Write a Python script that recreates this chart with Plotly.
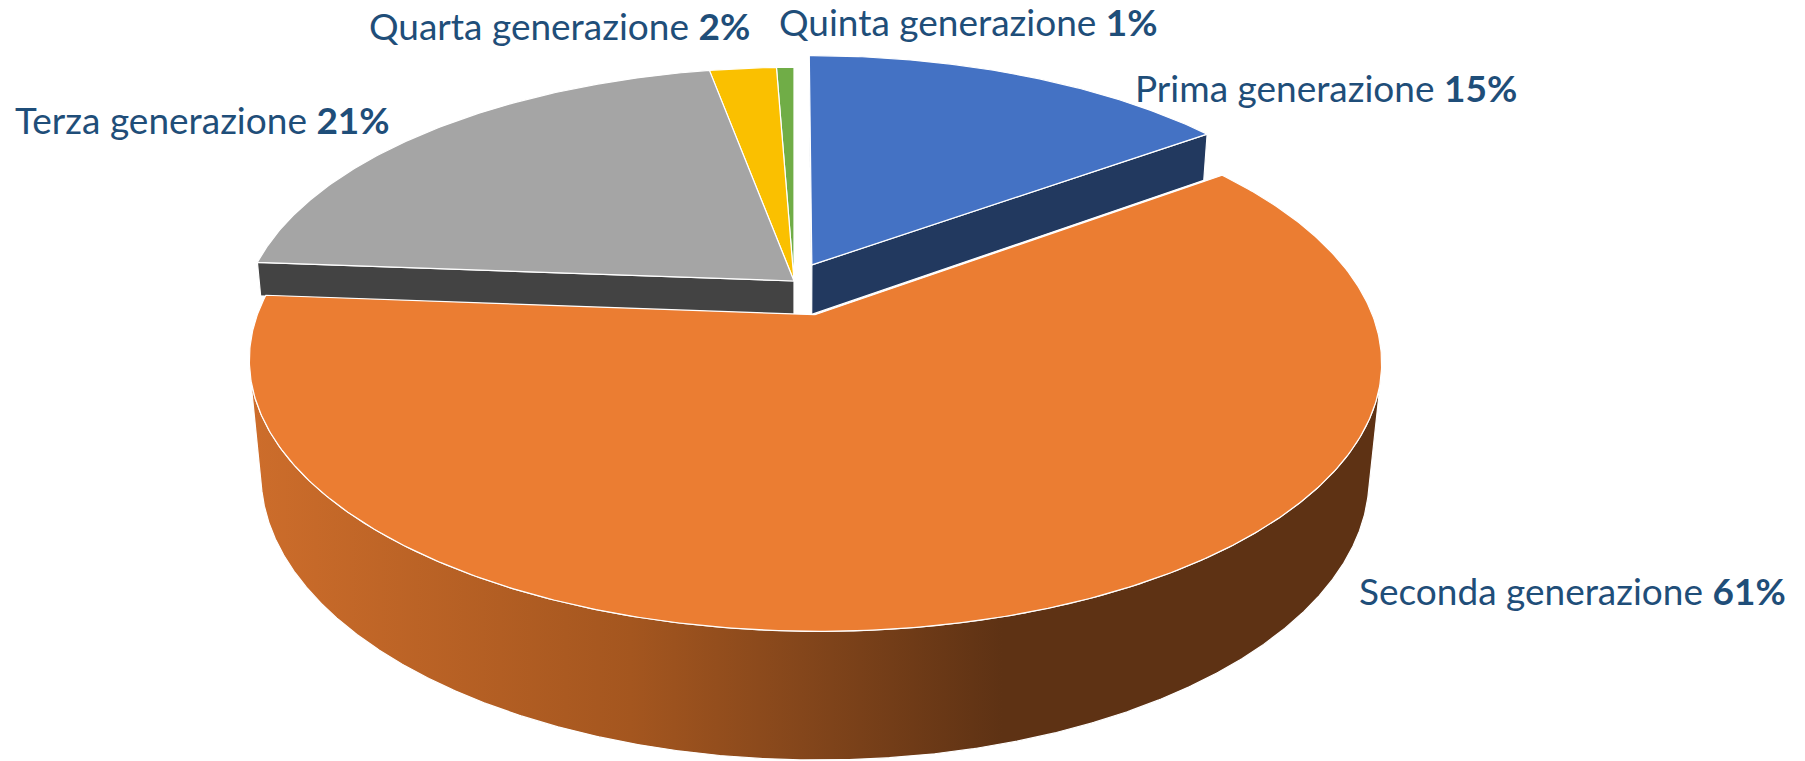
import math
import numpy as np
import plotly.graph_objects as go

# ---------------- data ----------------
categories = ["Prima generazione", "Seconda generazione", "Terza generazione",
              "Quarta generazione", "Quinta generazione"]
values = [15.0, 61.2, 20.9, 2.3, 0.6]

# ---------------- style ----------------
top_colors = ["#4472C4", "#EB7D32", "#A5A5A5", "#FAC000", "#70AD47"]
side_colors = ["#22395F", "#5E3214", "#434343", "#9C7500", "#44692B"]
explode = [0.073, 0.137, 0.0, 0.0, 0.0]
heights = [0.104, 0.235, 0.07, 0.07, 0.07]
label_pos = {  # pixel positions (left edge, vertical middle)
    "Prima generazione": (1133, 87),
    "Seconda generazione": (1357, 590),
    "Terza generazione": (13, 119),
    "Quarta generazione": (367, 25),
    "Quinta generazione": (777, 21),
}
TEXT_COLOR = "#1F4E79"
W, H = 1805, 761

# camera (perspective view of the pie)
CX, CY = 794.0, 281.0
F_SCALE = 545.0
K_PERSP = 0.17
ALPHA = math.asin(250.0 / 545.0)
SA, CA = math.sin(ALPHA), math.cos(ALPHA)
DIST = CA / K_PERSP
FOCAL = F_SCALE * DIST
CAM = np.array([0.0, -DIST * CA, DIST * SA])


def project(X, Y, Z):
    X = np.asarray(X, float); Y = np.asarray(Y, float); Z = np.asarray(Z, float)
    d = DIST + Y * CA - Z * SA
    up = Y * SA + Z * CA
    return CX + FOCAL * X / d, CY - FOCAL * up / d


fig = go.Figure()
total = sum(values)
starts = np.cumsum([0] + values[:-1]) / total * 2 * math.pi
spans = np.array(values) / total * 2 * math.pi

slices = []
for i in range(len(values)):
    t0 = starts[i]; t1 = t0 + spans[i]; tm = (t0 + t1) / 2
    ox, oy = explode[i] * math.sin(tm), explode[i] * math.cos(tm)
    slices.append(dict(i=i, t0=t0, t1=t1, tm=tm, ox=ox, oy=oy))

# paint far slices first
order = sorted(slices, key=lambda s: -(math.cos(s["tm"]) + s["oy"]))


def add_poly(xs, ys, color, grad=None, lw=1.2):
    kw = dict(x=list(xs) + [xs[0]], y=list(ys) + [ys[0]], mode="lines", fill="toself",
              fillcolor=color, line=dict(color="white", width=lw),
              hoverinfo="skip", showlegend=False)
    if grad is not None:
        kw["fillgradient"] = grad
    fig.add_trace(go.Scatter(**kw))


orange_grad = dict(type="horizontal",
                   colorscale=[[0, "#CD6D2B"], [0.337, "#A4561F"], [0.488, "#84461B"],
                               [0.665, "#5E3214"], [1, "#5E3214"]])

for s in order:
    i = s["i"]; ox, oy = s["ox"], s["oy"]; h = heights[i]
    P = np.array([ox, oy, 0.0])
    # radial faces
    for t, sign in ((s["t0"], -1), (s["t1"], 1)):
        n = np.array([math.cos(t), -math.sin(t), 0.0]) * sign
        if np.dot(CAM - P, n) > 0:
            X = [ox, ox + math.sin(t), ox + math.sin(t), ox]
            Y = [oy, oy + math.cos(t), oy + math.cos(t), oy]
            Z = [0, 0, -h, -h]
            u, v = project(X, Y, Z)
            add_poly(u, v, side_colors[i])
    # outer side
    nseg = max(6, int(math.degrees(s["t1"] - s["t0"]) * 2))
    th = np.linspace(s["t0"], s["t1"], nseg)
    px, py = ox + np.sin(th), oy + np.cos(th)
    vis = (CAM[0] - px) * np.sin(th) + (CAM[1] - py) * np.cos(th) > 0
    if vis.any():
        idx = np.where(vis)[0]
        a, b = idx[0], idx[-1]
        thv = np.linspace(th[a], th[b], max(6, (b - a) * 2))
        xx, yy = ox + np.sin(thv), oy + np.cos(thv)
        ut, vt = project(xx, yy, np.zeros_like(thv))
        ub, vb = project(xx, yy, -h * np.ones_like(thv))
        us = np.concatenate([ut, ub[::-1]]); vs = np.concatenate([vt, vb[::-1]])
        add_poly(us, vs, side_colors[i], grad=orange_grad if i == 1 else None)
    # top face
    ntop = max(6, int(math.degrees(s["t1"] - s["t0"]) * 2))
    th = np.linspace(s["t0"], s["t1"], ntop)
    X = np.concatenate([[ox], ox + np.sin(th)])
    Y = np.concatenate([[oy], oy + np.cos(th)])
    u, v = project(X, Y, np.zeros_like(X))
    add_poly(u, v, top_colors[i])

for cat, val in zip(categories, values):
    x, y = label_pos[cat]
    fig.add_annotation(x=x, y=y, xref="x", yref="y", xanchor="left", yanchor="middle",
                       showarrow=False,
                       text=f"{cat} <b>{round(val)}%</b>",
                       font=dict(family="Lato", size=37, color=TEXT_COLOR))

fig.update_layout(width=W, height=H, margin=dict(l=0, r=0, t=0, b=0),
                  paper_bgcolor="white", plot_bgcolor="white",
                  xaxis=dict(range=[0, W], visible=False, fixedrange=True),
                  yaxis=dict(range=[H, 0], visible=False, fixedrange=True),
                  showlegend=False)

fig.write_html("out.html", config={"displayModeBar": False, "staticPlot": True},
               post_script="document.body.style.margin='0';document.body.style.overflow='hidden';")
